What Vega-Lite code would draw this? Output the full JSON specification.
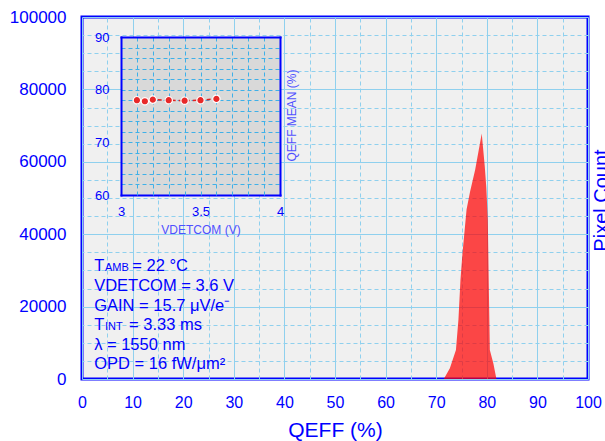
{
  "$schema": "https://vega.github.io/schema/vega-lite/v6.json",
  "width": 506,
  "height": 362,
  "autosize": "none",
  "padding": {"left": 82, "top": 17, "right": 17, "bottom": 62},
  "background": "white",
  "view": {"fill": "#f0f0f0", "stroke": "#0000ff", "strokeWidth": 3},
  "config": {
    "font": "Liberation Sans",
    "axis": {"labelFont": "Liberation Sans", "titleFont": "Liberation Sans", "labelColor": "#0000ff", "titleColor": "#0000ff", "titleFontWeight": "normal", "labelFlush": false, "labelOverlap": false}
  },
  "datasets": {
    "hist": [
      {"qeff": 71.5, "count": 0},
      {"qeff": 72.7, "count": 3000},
      {"qeff": 73.9, "count": 8000},
      {"qeff": 74.4, "count": 16500},
      {"qeff": 74.8, "count": 27500},
      {"qeff": 75.2, "count": 34800},
      {"qeff": 76.0, "count": 46800},
      {"qeff": 76.7, "count": 51800},
      {"qeff": 77.7, "count": 57800},
      {"qeff": 79.0, "count": 67800},
      {"qeff": 79.6, "count": 58700},
      {"qeff": 79.9, "count": 53000},
      {"qeff": 80.2, "count": 44000},
      {"qeff": 80.4, "count": 25500},
      {"qeff": 80.6, "count": 8000},
      {"qeff": 81.3, "count": 4300},
      {"qeff": 81.9, "count": 0}
    ],
    "inset": [
      {"vdet": 3.1, "qmean": 78.0},
      {"vdet": 3.15, "qmean": 77.8},
      {"vdet": 3.2, "qmean": 78.1},
      {"vdet": 3.3, "qmean": 78.0},
      {"vdet": 3.4, "qmean": 77.9},
      {"vdet": 3.5, "qmean": 78.0},
      {"vdet": 3.6, "qmean": 78.25}
    ],
    "notes": [
      {"x": 2.4, "y": 29834, "t": "T"},
      {"x": 9.94, "y": 29834, "t": "= 22 °C"},
      {"x": 2.4, "y": 24309, "t": "VDETCOM = 3.6 V"},
      {"x": 2.4, "y": 18785, "t": "GAIN = 15.7 μV/e⁻"},
      {"x": 2.4, "y": 13398, "t": "T"},
      {"x": 9.29, "y": 13398, "t": "= 3.33 ms"},
      {"x": 2.4, "y": 8011, "t": "λ = 1550 nm"},
      {"x": 2.4, "y": 2762, "t": "OPD = 16 fW/μm²"}
    ],
    "notes_small": [
      {"x": 4.55, "y": 29834, "t": "AMB"},
      {"x": 4.55, "y": 13398, "t": "INT"}
    ]
  },
  "resolve": {
    "scale": {"x": "independent", "y": "independent"},
    "axis": {"x": "independent", "y": "independent"}
  },
  "layer": [
    {
      "data": {"name": "hist"},
      "mark": {"type": "area", "color": "#ff0000", "opacity": 0.71},
      "encoding": {
        "x": {
          "field": "qeff", "type": "quantitative",
          "scale": {"domain": [0, 100], "nice": false, "zero": false},
          "axis": {
            "orient": "bottom", "values": [0, 10, 20, 30, 40, 50, 60, 70, 80, 90, 100],
            "grid": true, "gridColor": "#8fd0ee", "gridWidth": 1,
            "ticks": false, "domain": false,
            "labelFontSize": 16, "labelPadding": 15,
            "title": "QEFF (%)", "titleFontSize": 21, "titleX": 253, "titleY": 57,
            "titleAlign": "center", "titleBaseline": "alphabetic"
          }
        },
        "y": {
          "field": "count", "type": "quantitative",
          "scale": {"domain": [0, 100000], "nice": false, "zero": false},
          "axis": {
            "orient": "left", "values": [0, 20000, 40000, 60000, 80000, 100000], "format": "d",
            "grid": true, "gridColor": "#8fd0ee", "gridWidth": 1,
            "ticks": false, "domain": false,
            "labelFontSize": 17, "labelPadding": 16, "title": null
          }
        }
      }
    },
    {
      "data": {"name": "notes"},
      "mark": {"type": "text", "align": "left", "baseline": "alphabetic", "fontSize": 16.5, "color": "#0000ff", "font": "Liberation Sans"},
      "encoding": {
        "x": {
          "field": "x", "type": "quantitative",
          "scale": {"domain": [0, 100], "nice": false, "zero": false},
          "axis": {
            "orient": "top", "values": [5, 15, 25, 35, 45, 55, 65, 75, 85, 95],
            "grid": true, "gridColor": "#8fd0ee", "gridDash": [4, 3], "gridWidth": 1,
            "labels": false, "ticks": false, "domain": false, "title": null
          }
        },
        "y": {
          "field": "y", "type": "quantitative",
          "scale": {"domain": [0, 100000], "nice": false, "zero": false},
          "axis": {
            "orient": "right",
            "values": [5000, 10000, 15000, 25000, 30000, 35000, 45000, 50000, 55000, 65000, 70000, 75000, 85000, 90000, 95000],
            "grid": true, "gridColor": "#8fd0ee", "gridDash": [4, 3], "gridWidth": 1,
            "labels": false, "ticks": false, "domain": false,
            "title": "Pixel Count", "titleFontSize": 20, "titleAngle": -90,
            "titleX": 19, "titleY": 183, "titleAlign": "center", "titleBaseline": "alphabetic"
          }
        },
        "text": {"field": "t"}
      }
    },
    {
      "data": {"name": "notes_small"},
      "mark": {"type": "text", "align": "left", "baseline": "alphabetic", "fontSize": 11, "color": "#0000ff", "font": "Liberation Sans"},
      "encoding": {
        "x": {"field": "x", "type": "quantitative", "scale": {"domain": [0, 100], "nice": false, "zero": false}, "axis": null},
        "y": {"field": "y", "type": "quantitative", "scale": {"domain": [0, 100000], "nice": false, "zero": false}, "axis": null},
        "text": {"field": "t"}
      }
    },
    {
      "data": {"name": "inset"},
      "mark": {"type": "line", "color": "#e02020", "strokeWidth": 1.5, "strokeDash": [4, 3]},
      "encoding": {
        "x": {
          "field": "vdet", "type": "quantitative",
          "scale": {"domain": [3, 4], "range": [39, 198], "nice": false, "zero": false},
          "axis": {
            "orient": "bottom", "offset": -184, "values": [3, 3.5, 4], "format": "~g",
            "grid": false, "ticks": false,
            "domain": true, "domainColor": "#0000ff", "domainWidth": 2, "domainCap": "square",
            "labelFontSize": 13, "labelPadding": 10.5,
            "title": "VDETCOM (V)", "titleFontSize": 12, "titleColor": "#5050ff",
            "titleX": 118.5, "titleY": 38, "titleAlign": "center", "titleBaseline": "alphabetic"
          }
        },
        "y": {
          "field": "qmean", "type": "quantitative",
          "scale": {"domain": [60, 90], "range": [178, 20], "nice": false, "zero": false},
          "axis": {
            "orient": "left", "offset": -198, "values": [75],
            "grid": true, "gridColor": "#d9d9d9", "gridWidth": 158, "gridCap": "butt",
            "labels": false, "ticks": false,
            "domain": true, "domainColor": "#0000ff", "domainWidth": 2, "domainCap": "square",
            "title": "QEFF MEAN (%)", "titleFontSize": 12, "titleColor": "#5050ff", "titleAngle": -90,
            "titleX": 15.3, "titleY": 98, "titleAlign": "center", "titleBaseline": "alphabetic"
          }
        }
      }
    },
    {
      "data": {"name": "inset"},
      "mark": {"type": "point", "filled": true, "color": "#e82828", "size": 55, "stroke": "white", "strokeWidth": 1.2, "opacity": 1},
      "encoding": {
        "x": {
          "field": "vdet", "type": "quantitative",
          "scale": {"domain": [3, 4], "range": [39, 198], "nice": false, "zero": false},
          "axis": {
            "orient": "top", "offset": -20, "values": [3.1, 3.2, 3.3, 3.4, 3.5, 3.6, 3.7, 3.8, 3.9],
            "grid": false, "labels": false,
            "ticks": true, "tickSize": -158, "tickColor": "#3fb0e8", "tickDash": [4, 3], "tickWidth": 1,
            "domain": true, "domainColor": "#0000ff", "domainWidth": 2, "domainCap": "square",
            "title": null
          }
        },
        "y": {
          "field": "qmean", "type": "quantitative",
          "scale": {"domain": [60, 90], "range": [178, 20], "nice": false, "zero": false},
          "axis": {
            "orient": "left", "offset": -39,
            "values": [60, 62, 64, 66, 68, 70, 72, 74, 76, 78, 80, 82, 84, 86, 88, 90],
            "grid": true, "gridColor": "#3fb0e8", "gridDash": [4, 3], "gridWidth": 1,
            "labels": true, "labelExpr": "datum.value % 10 === 0 ? datum.label : ''",
            "labelFontSize": 13, "labelPadding": 12,
            "ticks": false,
            "domain": true, "domainColor": "#0000ff", "domainWidth": 2, "domainCap": "square",
            "title": null
          }
        }
      }
    }
  ]
}
